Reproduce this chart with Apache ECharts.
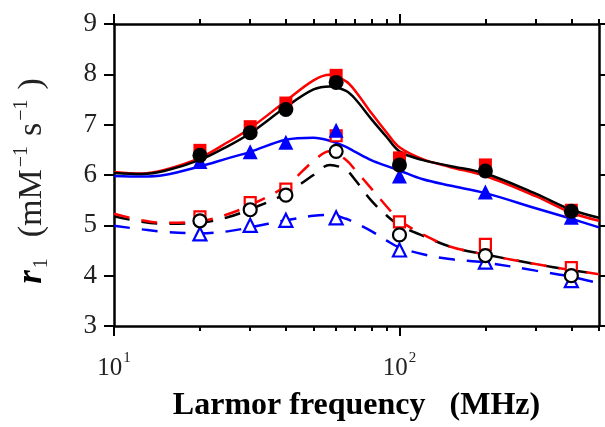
<!DOCTYPE html>
<html><head><meta charset="utf-8">
<script src="https://cdn.jsdelivr.net/npm/echarts@6/dist/echarts.min.js"></script>
<style>html,body{margin:0;padding:0;background:#fff}#c{width:605px;height:427px}</style>
</head><body><div id="c"></div>
<script>
// Measured frequencies (MHz)
const pointFreq = [20, 30, 40, 60, 100, 200, 400];
const redFilled   = [6.49, 6.96, 7.43, 7.98, 6.34, 6.20, 5.30];
const blackFilled = [6.39, 6.84, 7.30, 7.84, 6.20, 6.08, 5.28];
const blueFilled  = [6.27, 6.46, 6.65, 6.89, 5.98, 5.66, 5.16];
const redOpen     = [5.17, 5.45, 5.72, 6.78, 5.07, 4.62, 4.16];
const blackOpen   = [5.09, 5.31, 5.60, 6.47, 4.81, 4.40, 4.00];
const blueOpen    = [4.83, 5.00, 5.10, 5.15, 4.51, 4.27, 3.90];

// Fit curves sampled at these frequencies
const fitFreq = [10, 12.5, 15, 20, 25, 30, 40, 50, 57, 65, 70, 80, 90, 100, 120, 150, 200, 300, 400, 500];
const redFitSolid   = [6.06, 6.03, 6.10, 6.34, 6.65, 6.93, 7.47, 7.88, 7.99, 7.86, 7.67, 7.22, 6.85, 6.55, 6.32, 6.16, 5.98, 5.58, 5.25, 5.09];
const blackFitSolid = [6.04, 6.02, 6.08, 6.30, 6.57, 6.83, 7.35, 7.70, 7.76, 7.67, 7.51, 7.10, 6.76, 6.47, 6.30, 6.18, 6.03, 5.63, 5.31, 5.15];
const blueFitSolid  = [5.98, 5.97, 6.00, 6.17, 6.33, 6.46, 6.70, 6.74, 6.68, 6.56, 6.46, 6.29, 6.18, 6.09, 5.92, 5.79, 5.64, 5.34, 5.13, 4.96];
const redFitDash    = [5.23, 5.10, 5.05, 5.08, 5.22, 5.40, 5.78, 6.28, 6.47, 6.30, 6.10, 5.72, 5.38, 5.10, 4.83, 4.58, 4.42, 4.23, 4.11, 4.03];
const blackFitDash  = [5.18, 5.07, 5.03, 5.05, 5.16, 5.32, 5.63, 6.00, 6.20, 6.10, 5.90, 5.48, 5.20, 5.00, 4.80, 4.58, 4.42, 4.23, 4.11, 4.03];
const blueFitDash   = [4.99, 4.92, 4.87, 4.84, 4.88, 4.96, 5.10, 5.19, 5.21, 5.13, 5.05, 4.88, 4.70, 4.56, 4.43, 4.33, 4.26, 4.10, 3.98, 3.85];

const majorTicks = [10, 100];
const minorTicks = [20, 30, 40, 50, 60, 70, 80, 90, 200, 300, 400, 500];
const xLabelValues = [10, 100];

const FONT = 'Liberation Serif';
const RED = '#ff0000', BLUE = '#0000ff', BLACK = '#000000';

const zip = (xs, ys) => xs.map((x, i) => [x, ys[i]]);

function xAxisDef(pos, ticks, len, withLabels, showLine) {
  return {
    type: 'log', logBase: 10, min: 10, max: 500, position: pos,
    axisLine: { show: showLine, lineStyle: { color: '#000', width: 2.5 } },
    axisTick: { show: true, inside: false, length: len, customValues: ticks, lineStyle: { color: '#000', width: 2 } },
    minorTick: { show: false },
    splitLine: { show: false },
    axisLabel: withLabels ? {
      show: true, customValues: xLabelValues, margin: 25, fontFamily: FONT,
      formatter: v => { const r = Math.round(v); return r === 10 ? '{b|10}{s|1}' : (r === 100 ? '{b|10}{s|2}' : ''); },
      rich: {
        b: { fontFamily: FONT, fontSize: 25, color: '#222', lineHeight: 30, verticalAlign: 'bottom' },
        s: { fontFamily: FONT, fontSize: 15, color: '#222', lineHeight: 30, verticalAlign: 'top', padding: [0,0,0,1] }
      }
    } : { show: false }
  };
}

const xAxes = [
  Object.assign(xAxisDef('bottom', majorTicks, 10, true, true), {
    name: 'Larmor frequency   (MHz)', nameLocation: 'middle', nameGap: 64,
    nameTextStyle: { fontFamily: FONT, fontSize: 32, fontWeight: 'bold', color: '#000' }
  }),
  xAxisDef('bottom', minorTicks, 5, false, false),
  xAxisDef('top', majorTicks, 10, false, true),
  xAxisDef('top', minorTicks, 5, false, false)
];

function yAxisDef(pos, labels) {
  return {
    type: 'value', min: 3, max: 9, interval: 1, position: pos,
    axisLine: { show: true, lineStyle: { color: '#000', width: 2.5 } },
    axisTick: { show: true, inside: false, length: pos === 'left' ? 10 : 6, lineStyle: { color: '#000', width: 2 } },
    splitLine: { show: false },
    axisLabel: labels ? {
      show: true, margin: 17, fontFamily: FONT, fontSize: 27, color: '#222',
      formatter: v => '{n|' + v + '}',
      rich: { n: { fontFamily: FONT, fontSize: 27, color: '#222' } }
    } : { show: false }
  };
}

const yAxes = [
  Object.assign(yAxisDef('left', true), {
    name: '{ri|r}{sub|1}{t|(mM}{sup|−1}{t|s}{sup|−1}{e|)}',
    nameLocation: 'middle', nameGap: 62, nameRotate: 90,
    nameTextStyle: {
      fontFamily: FONT, fontSize: 34,
      rich: {
        ri: { fontFamily: FONT, fontSize: 35, fontWeight: 'bold', fontStyle: 'italic', color: '#000', lineHeight: 40, verticalAlign: 'middle' },
        sub: { fontFamily: FONT, fontSize: 20, color: '#222', lineHeight: 20, verticalAlign: 'bottom', padding: [0, 21, 0, 2] },
        t: { fontFamily: FONT, fontSize: 34, color: '#222', lineHeight: 40, verticalAlign: 'middle' },
        sup: { fontFamily: FONT, fontSize: 20, color: '#222', lineHeight: 20, verticalAlign: 'top', padding: [0, 10, 0, 2] },
        e: { fontFamily: FONT, fontSize: 34, color: '#222', lineHeight: 40, verticalAlign: 'middle', padding: [0, 12, 0, 0] }
      }
    }
  }),
  yAxisDef('right', false)
];

function fitLine(data, color, dashed, z) {
  return {
    type: 'line', data: zip(fitFreq, data), smooth: 0.35, showSymbol: false, symbol: 'none',
    lineStyle: { color: color, width: 2.5, type: dashed ? [16, 12] : 'solid' },
    z: z, silent: true
  };
}
function pts(data, symbol, size, color, open, z) {
  return {
    type: 'scatter', data: zip(pointFreq, data), symbol: symbol, symbolSize: size,
    itemStyle: open ? { color: '#fff', borderColor: color, borderWidth: 2.2, opacity: 1 } : { color: color, opacity: 1 },
    z: z
  };
}

const chart = echarts.init(document.getElementById('c'), null, { renderer: 'canvas' });
chart.setOption({
  animation: false,
  backgroundColor: '#fff',
  textStyle: { fontFamily: FONT },
  grid: { left: 114, right: 6, top: 24, bottom: 90, containLabel: false },
  xAxis: xAxes,
  yAxis: yAxes,
  series: [
    fitLine(blueFitDash, BLUE, true, 2),
    fitLine(blackFitDash, BLACK, true, 2),
    fitLine(redFitDash, RED, true, 2),
    fitLine(blueFitSolid, BLUE, false, 2),
    fitLine(redFitSolid, RED, false, 2),
    fitLine(blackFitSolid, BLACK, false, 2),
    pts(redOpen, 'rect', 11, RED, true, 3),
    pts(blueOpen, 'triangle', 13, BLUE, true, 3),
    pts(blackOpen, 'circle', 13, BLACK, true, 3),
    pts(redFilled, 'rect', 13, RED, false, 4),
    pts(blueFilled, 'triangle', 15, BLUE, false, 4),
    pts(blackFilled, 'circle', 15, BLACK, false, 5)
  ]
});
</script>
</body></html>
